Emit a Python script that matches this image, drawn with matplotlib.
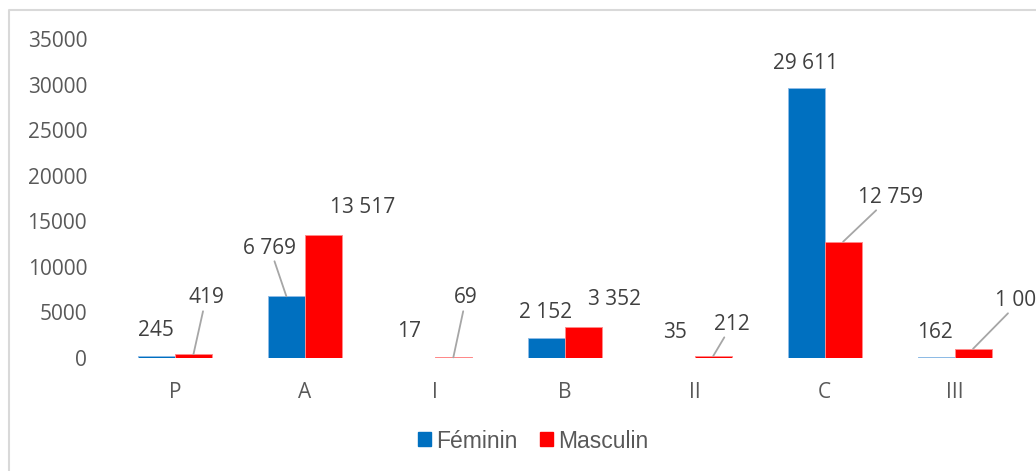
import matplotlib
matplotlib.use("Agg")
import matplotlib.pyplot as plt
import numpy as np
from matplotlib.lines import Line2D
from matplotlib.patches import Patch

categories = ["P", "A", "I", "B", "II", "C", "III"]
feminin = [245, 6769, 17, 2152, 35, 29611, 162]
masculin = [419, 13517, 69, 3352, 212, 12759, 1009]
fem_labels = ["245", "6 769", "17", "2 152", "35", "29 611", "162"]
mas_labels = ["419", "13 517", "69", "3 352", "212", "12 759", "1 009"]

# label offsets (pixels, from top centre of bar) and leader flags
fem_off = [(-0.5, 24.8), (-16.4, 48.3), (-7, 26), (-0.2, 25.4), (-1, 24.7), (-1, 25), (-1, 24.5)]
fem_lead = [False, True, False, False, False, False, False]
mas_off = [(12.5, 56.2), (39.6, 27.8), (12.7, 59.4), (30.8, 28.4), (19, 32), (47, 44.7), (48, 48.8)]
mas_lead = [True, False, True, False, True, True, True]

BLUE = "#0070C0"
RED = "#FF0000"
TXT = "#404040"
TICK = "#595959"
FONT = "Open Sans"
FS = 15
PX = 0.72  # points per pixel at dpi 100

fig = plt.figure(figsize=(10.36, 4.71), dpi=100)
ax = fig.add_axes([110 / 1036, 1 - 358 / 471, (1019.5 - 110) / 1036, (358 - 39) / 471])

x = np.arange(len(categories))
w = 0.285
ax.bar(x - w / 2, feminin, w, color=BLUE, edgecolor="#8FBCE6", linewidth=0.7, label="Féminin")
ax.bar(x + w / 2, masculin, w, color=RED, edgecolor="#FF8A8A", linewidth=0.7, label="Masculin")

ax.set_xlim(-0.5, len(categories) - 0.5)
ax.set_ylim(0, 35000)
ax.set_yticks(range(0, 35001, 5000))
ax.set_xticks(x)
ax.set_xticklabels(categories)
for s in ax.spines.values():
    s.set_visible(False)
ax.tick_params(axis="y", length=0, pad=16.5, labelsize=FS, labelcolor=TICK)
ax.tick_params(axis="x", length=0, pad=17, labelsize=FS, labelcolor=TICK)
for lbl in ax.get_xticklabels() + ax.get_yticklabels():
    lbl.set_fontfamily(FONT)


def put_labels(xs, vals, texts, offs, leads):
    for xi, v, t, (dx, dy), lead in zip(xs, vals, texts, offs, leads):
        props = None
        if lead:
            props = dict(arrowstyle="-", color="#A6A6A6", lw=1.3, shrinkA=0, shrinkB=0)
        ax.annotate(t, xy=(xi, v), xytext=(dx * PX, dy * PX), textcoords="offset points",
                    ha="center", va="center", fontsize=FS, color=TXT, family=FONT,
                    arrowprops=props, annotation_clip=False)


put_labels(x - w / 2, feminin, fem_labels, fem_off, fem_lead)
put_labels(x + w / 2, masculin, mas_labels, mas_off, mas_lead)

handles = [Patch(color=BLUE, label="Féminin"), Patch(color=RED, label="Masculin")]
fig.legend(handles=handles, loc="center", bbox_to_anchor=(533 / 1036, 1 - 441 / 471),
           ncol=2, frameon=False, handlelength=0.57, handleheight=0.57,
           handletextpad=0.22, columnspacing=1.0,
           prop={"family": "Liberation Sans", "size": 16.5}, labelcolor=TICK)

# chart border (top and left visible)
fig.add_artist(Line2D([9 / 1036, 9 / 1036, 1.0], [0.0, 1 - 10 / 471, 1 - 10 / 471],
                      transform=fig.transFigure, color="#D9D9D9", lw=1.5))

fig.savefig("out.png", dpi=100)
